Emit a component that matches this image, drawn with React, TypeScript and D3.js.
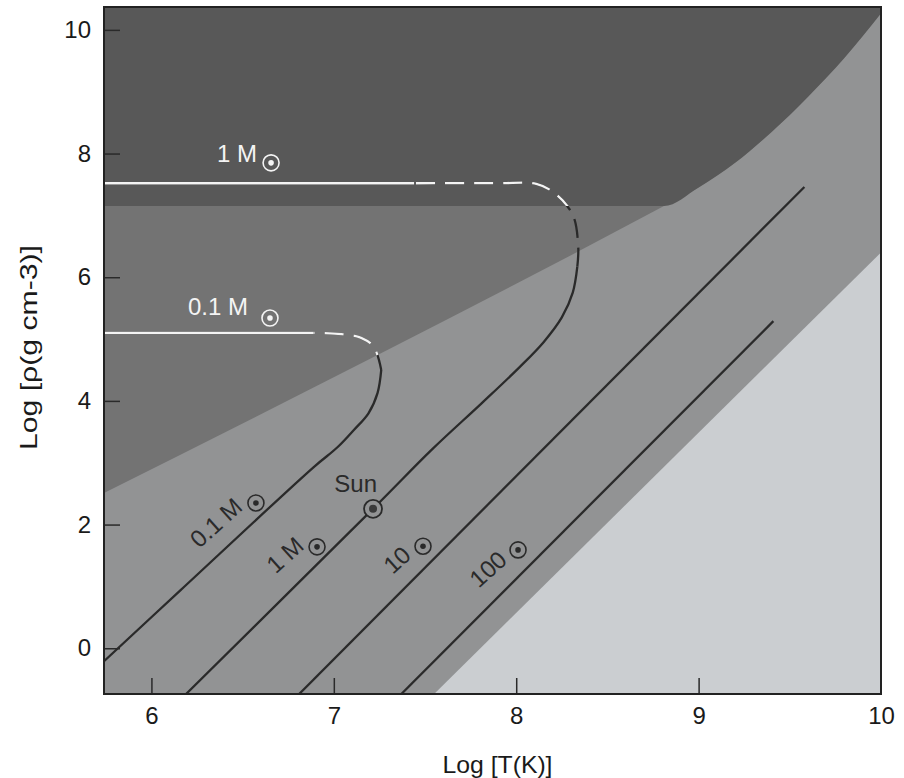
import React, { useEffect, useRef } from 'react';
import * as d3 from 'd3';

type Pt = [number, number];

const xTicks = [6, 7, 8, 9, 10];
const yTicks = [0, 2, 4, 6, 8, 10];

// zone boundaries, log T vs log rho
const degenBoundary: Pt[] = [[5.74, 2.51], [8.81, 7.15], [9.0, 7.45], [9.2, 7.85], [9.4, 8.35], [9.6, 8.92], [9.8, 9.55], [10.0, 10.27]];
const relFloor = 7.15;
const radBoundary: Pt[] = [[7.55, -0.74], [10.0, 6.4]];

// 0.1 Msun track
const track01Low: Pt[] = [[5.74, -0.21], [6.16, 0.94], [6.89, 2.93], [7.02, 3.25], [7.11, 3.53], [7.19, 3.8], [7.24, 4.13], [7.26, 4.5]];
const track01Loop: Pt[] = [[7.26, 4.5], [7.22, 4.87], [7.15, 5.02], [7.04, 5.08], [6.89, 5.1]];
const track01Top: Pt[] = [[6.89, 5.1], [5.74, 5.1]];

// 1 Msun track
const track1Low: Pt[] = [[6.19, -0.74], [7.22, 2.27], [7.54, 3.22], [7.81, 3.96], [8.02, 4.55], [8.15, 4.95], [8.25, 5.35], [8.31, 5.75], [8.335, 6.17]];
const track1Loop: Pt[] = [[8.335, 6.17], [8.34, 6.49], [8.31, 7.01], [8.21, 7.36], [8.11, 7.51], [7.9, 7.52], [7.44, 7.52]];
const track1Top: Pt[] = [[7.44, 7.52], [5.74, 7.52]];

const track10: Pt[] = [[6.81, -0.74], [9.58, 7.46]];
const track100: Pt[] = [[7.37, -0.74], [9.41, 5.29]];

const massLabels = [
  { text: '0.1 M', x: 6.354, y: 2.03, sx: 6.573, sy: 2.35 },
  { text: '1 M', x: 6.732, y: 1.51, sx: 6.908, sy: 1.64 },
  { text: '10', x: 7.346, y: 1.43, sx: 7.489, sy: 1.65 },
  { text: '100', x: 7.845, y: 1.28, sx: 8.01, sy: 1.59 },
];
const whiteLabels = [
  { text: '1 M', x: 6.36, y: 7.87, sx: 6.656, sy: 7.85 },
  { text: '0.1 M', x: 6.2, y: 5.39, sx: 6.65, sy: 5.34 },
];
const sunPoint: Pt = [7.215, 2.254];
const sunLabel = { text: 'Sun', x: 7.12, y: 2.53 };

const FONT = "'Liberation Sans', Arial, Helvetica, sans-serif";

export default function App() {
  const ref = useRef<SVGSVGElement>(null);

  useEffect(() => {
    const svg = d3.select(ref.current);
    svg.selectAll('*').remove();

    const left = 104, right = 881, top = 7, bottom = 694;
    const x = d3.scaleLinear().domain([5.74, 10.0]).range([left, right]);
    const y = d3.scaleLinear().domain([-0.74, 10.37]).range([bottom, top]);

    const dark = '#2a2a2a';
    const white = '#f4f4f4';

    const defs = svg.append('defs');
    defs.append('clipPath').attr('id', 'plot')
      .append('rect').attr('x', left).attr('y', top).attr('width', right - left).attr('height', bottom - top);

    const upper = d3.area<Pt>().x(d => x(d[0])).y0(d => y(d[1])).y1(y(10.37)).curve(d3.curveMonotoneX);
    const relArea = d3.area<Pt>().x(d => x(d[0])).y0(d => y(Math.max(d[1], relFloor))).y1(y(10.37)).curve(d3.curveMonotoneX);
    const radArea = d3.area<Pt>().x(d => x(d[0])).y0(y(-0.74)).y1(d => y(d[1]));

    defs.append('clipPath').attr('id', 'degen').append('path').attr('d', upper(degenBoundary));
    defs.append('clipPath').attr('id', 'rel').append('path').attr('d', relArea(degenBoundary));

    const g = svg.append('g').attr('clip-path', 'url(#plot)');
    g.append('rect').attr('x', left).attr('y', top).attr('width', right - left).attr('height', bottom - top).attr('fill', '#929394');
    g.append('path').attr('d', radArea(radBoundary)).attr('fill', '#cbced1');
    g.append('path').attr('d', upper(degenBoundary)).attr('fill', '#737373');
    g.append('path').attr('d', relArea(degenBoundary)).attr('fill', '#585858');

    const line = d3.line<Pt>().x(d => x(d[0])).y(d => y(d[1])).curve(d3.curveCatmullRom);

    const drawTrack = (pts: Pt[], dashed: boolean, whiteClip: string | null) => {
      const p = g.append('path').attr('d', line(pts)).attr('fill', 'none')
        .attr('stroke', dark).attr('stroke-width', 2.3);
      if (dashed) p.attr('stroke-dasharray', '19 10');
      if (whiteClip) {
        const w = g.append('g').attr('clip-path', `url(#${whiteClip})`)
          .append('path').attr('d', line(pts)).attr('fill', 'none')
          .attr('stroke', white).attr('stroke-width', 2.3);
        if (dashed) w.attr('stroke-dasharray', '19 10');
      }
    };

    drawTrack(track01Low, false, 'degen');
    drawTrack(track01Loop, true, 'degen');
    drawTrack(track01Top, false, 'degen');
    drawTrack(track1Low, false, 'rel');
    drawTrack(track1Loop, true, 'rel');
    drawTrack(track1Top, false, 'rel');
    drawTrack(track10, false, null);
    drawTrack(track100, false, null);

    const sunSymbol = (cx: number, cy: number, color: string, r = 8) => {
      svg.append('circle').attr('cx', cx).attr('cy', cy).attr('r', r)
        .attr('fill', 'none').attr('stroke', color).attr('stroke-width', 1.6);
      svg.append('circle').attr('cx', cx).attr('cy', cy).attr('r', 2.8).attr('fill', color);
    };

    // rotated mass labels along the lines
    massLabels.forEach(l => {
      const cx = x(l.x), cy = y(l.y);
      svg.append('text').attr('x', cx).attr('y', cy)
        .attr('text-anchor', 'middle').attr('dominant-baseline', 'central')
        .attr('transform', `rotate(-42 ${cx} ${cy})`)
        .attr('font-family', FONT).attr('font-size', 24).attr('fill', dark)
        .text(l.text);
      sunSymbol(x(l.sx), y(l.sy), dark);
    });

    whiteLabels.forEach(l => {
      svg.append('text').attr('x', x(l.x)).attr('y', y(l.y))
        .attr('font-family', FONT).attr('font-size', 24).attr('fill', white)
        .text(l.text);
      sunSymbol(x(l.sx), y(l.sy), white);
    });

    // the Sun on the 1 Msun track
    svg.append('circle').attr('cx', x(sunPoint[0])).attr('cy', y(sunPoint[1])).attr('r', 9)
      .attr('fill', '#929394').attr('stroke', dark).attr('stroke-width', 1.8);
    svg.append('circle').attr('cx', x(sunPoint[0])).attr('cy', y(sunPoint[1])).attr('r', 4).attr('fill', '#3a3a3a');
    svg.append('text').attr('x', x(sunLabel.x)).attr('y', y(sunLabel.y))
      .attr('text-anchor', 'middle').attr('font-family', FONT).attr('font-size', 24).attr('fill', dark)
      .text(sunLabel.text);

    // axes: ticks point inward
    const xAxis = svg.append('g').attr('transform', `translate(0,${bottom})`)
      .call(d3.axisBottom(x).tickValues(xTicks).tickSize(-16).tickPadding(13).tickFormat(d3.format('d')));
    xAxis.select('.domain').remove();
    xAxis.selectAll('.tick line').attr('stroke', dark).attr('stroke-width', 1.5)
      .filter((d: any) => d === 10).remove();
    xAxis.selectAll('text').attr('font-family', FONT).attr('font-size', 24).attr('fill', '#1a1a1a');

    const yAxis = svg.append('g').attr('transform', `translate(${left},0)`)
      .call(d3.axisLeft(y).tickValues(yTicks).tickSize(-16).tickPadding(13).tickFormat(d3.format('d')));
    yAxis.select('.domain').remove();
    yAxis.selectAll('.tick line').attr('stroke', dark).attr('stroke-width', 1.5);
    yAxis.selectAll('text').attr('font-family', FONT).attr('font-size', 24).attr('fill', '#1a1a1a');

    // frame
    svg.append('rect').attr('x', left).attr('y', top).attr('width', right - left).attr('height', bottom - top)
      .attr('fill', 'none').attr('stroke', '#222').attr('stroke-width', 2);

    svg.append('text').attr('x', (left + right) / 2 + 5).attr('y', 773)
      .attr('text-anchor', 'middle').attr('font-family', FONT).attr('font-size', 24).attr('fill', '#1a1a1a')
      .attr('textLength', 110).attr('lengthAdjust', 'spacingAndGlyphs')
      .text('Log [T(K)]');

    svg.append('text').attr('transform', `translate(37,${(top + bottom) / 2 - 3}) rotate(-90)`)
      .attr('text-anchor', 'middle').attr('font-family', FONT).attr('font-size', 24).attr('fill', '#1a1a1a')
      .attr('textLength', 205).attr('lengthAdjust', 'spacingAndGlyphs')
      .text('Log [ρ(g cm-3)]');
  }, []);

  return (
    <svg ref={ref} width={904} height={778}
      style={{ position: 'absolute', left: 0, top: 0, background: '#fff' }} />
  );
}
